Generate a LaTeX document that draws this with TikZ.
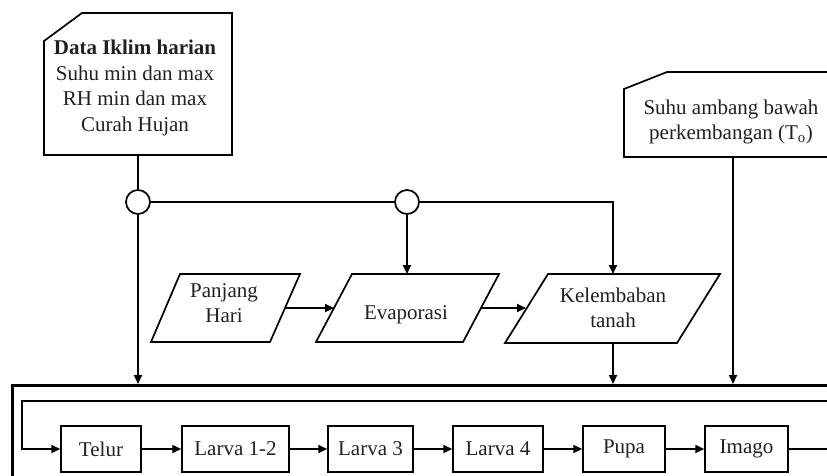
\documentclass[tikz,border=0pt]{standalone}
\usepackage{fontspec}
\setmainfont{Liberation Serif}
\usetikzlibrary{arrows.meta}
\definecolor{txt}{RGB}{35,31,32}
\tikzset{
  ln/.style={line width=1.7pt, draw=black},
  arr/.style={ln, -{Triangle[length=9pt,width=8pt]}},
  lbl/.style={text=txt, font=\fontsize{21}{25.5}\selectfont, align=center, inner sep=0pt},
  stage/.style={draw=black, line width=1.5pt, minimum height=46pt, inner sep=0pt, text=txt, font=\fontsize{21}{25}\selectfont},
  junc/.style={circle, draw=black, line width=1.7pt, minimum size=24pt, inner sep=0pt, fill=white},
  outer/.style={line width=3pt, draw=black}
}
\begin{document}
\begin{tikzpicture}[x=1pt,y=-1pt]
\clip (0,0) rectangle (827,476);
% input box: climate data
\draw[ln] (44,41) -- (82,13) -- (232,13) -- (232,155) -- (44,155) -- cycle;
\node[lbl] (data) at (135,88) {\textbf{Data Iklim harian}\\Suhu min dan max\\RH min dan max\\Curah Hujan};
\coordinate (databot) at (138,155);
% input box: threshold temperature
\draw[ln] (624,89) -- (667,72) -- (845,72) -- (845,157) -- (624,157) -- cycle;
\node[lbl] (ambang) at (731,122) {Suhu ambang bawah\\perkembangan (T\textsubscript{o})};
\coordinate (ambangbot) at (733,157);
% junctions
\node[junc] (c1) at (138,202) {};
\node[junc] (c2) at (407,202) {};
% parallelograms
\draw[ln] (180,274) -- (300,274) -- (270,342) -- (151,342) -- cycle;
\node[lbl] (panjang) at (224,303) {Panjang\\Hari};
\draw[ln] (352,274) -- (499,274) -- (463,342) -- (316,342) -- cycle;
\node[lbl] (evap) at (406,315) {Evaporasi};
\draw[ln] (548,274) -- (720,274) -- (677,343) -- (505,343) -- cycle;
\node[lbl] (kelem) at (613,308) {Kelembaban\\tanah};
\coordinate (panjangE) at (285,308);
\coordinate (evapW) at (334,308);
\coordinate (evapE) at (481,308);
\coordinate (kelemW) at (526,308);
\coordinate (evapN) at (407,274);
\coordinate (kelemN) at (613,274);
\coordinate (kelemS) at (613,343);
% model frame
\draw[outer] (12,385) rectangle (860,500);
\coordinate (in1) at (138,384);
\coordinate (in2) at (613,384);
\coordinate (in3) at (733,384);
% stages
\node[stage, minimum width=80pt] (telur) at (101,449) {Telur};
\node[stage, minimum width=107pt] (larva12) at (235.5,449) {Larva 1-2};
\node[stage, minimum width=85pt] (larva3) at (370.5,449) {Larva 3};
\node[stage, minimum width=90pt] (larva4) at (498,449) {Larva 4};
\node[stage, minimum width=82pt] (pupa) at (624,449) {Pupa};
\node[stage, minimum width=83pt] (imago) at (746.5,449) {Imago};
\coordinate (loopR) at (870,449);
\coordinate (loopL) at (22,401);
% connectors
\draw[ln] (databot) -- (c1);
\draw[ln] (c1) -- (c2);
\draw[arr] (c2) -| (kelemN);
\draw[arr] (c2) -- (evapN);
\draw[arr] (c1) -- (in1);
\draw[arr] (kelemS) -- (in2);
\draw[arr] (ambangbot) -- (in3);
\draw[arr] (panjangE) -- (evapW);
\draw[arr] (evapE) -- (kelemW);
\draw[arr] (telur) -- (larva12);
\draw[arr] (larva12) -- (larva3);
\draw[arr] (larva3) -- (larva4);
\draw[arr] (larva4) -- (pupa);
\draw[arr] (pupa) -- (imago);
\draw[arr] (imago.east) -- (loopR) |- (loopL) |- (telur.west);
\end{tikzpicture}
\end{document}
